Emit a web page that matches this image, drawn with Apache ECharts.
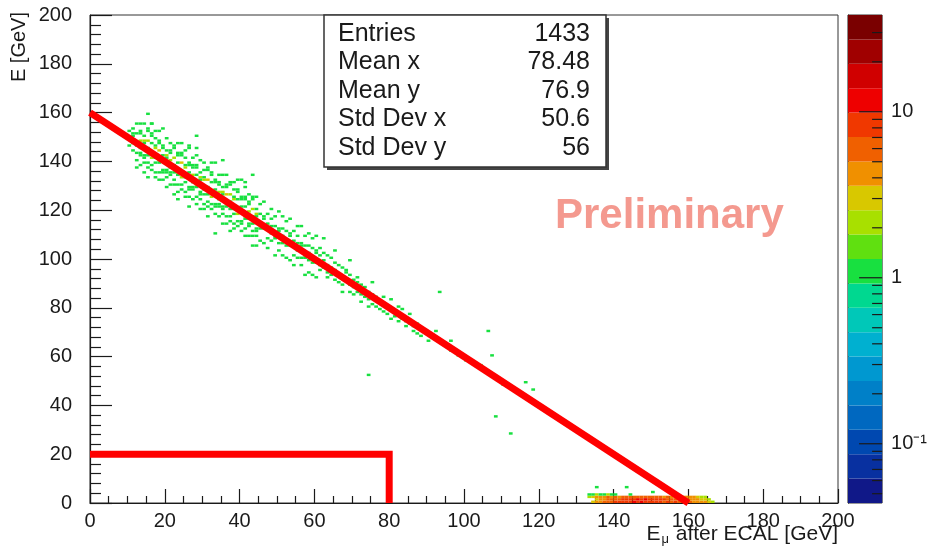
<!DOCTYPE html>
<html>
<head>
<meta charset="utf-8">
<script src="https://cdn.jsdelivr.net/npm/echarts@6/dist/echarts.min.js"></script>
<style>
html, body { margin: 0; padding: 0; background: #fff; }
#chart { width: 930px; height: 553px; }
</style>
</head>
<body>
<div id="chart"></div>
<script>
// 2D histogram of E versus E_mu after ECAL, 1 GeV x 1 GeV bins.
// Each entry: [E_mu bin low edge, E bin low edge, entries]
const bandDense = [
  [10,149,1],[10,152,1],[10,146,1],
  [11,147,1],[11,150,1],[11,144,1],[11,153,1],
  [12,151,1],[12,146,1],[12,143,1],[12,155,1],[12,140,1],
  [13,155,1],[13,152,1],[13,151,1],[13,148,2],[13,145,1],[13,143,1],[13,142,1],[13,138,1],
  [14,155,1],[14,150,1],[14,148,2],[14,147,1],[14,142,1],[14,141,1],[14,139,1],[14,135,1],
  [15,153,1],[15,152,1],[15,148,2],[15,145,1],[15,142,1],[15,139,1],[15,137,1],[15,133,1],
  [16,151,1],[16,150,1],[16,147,1],[16,143,1],[16,141,2],[16,138,1],[16,136,1],[16,155,1],
  [17,152,1],[17,149,1],[17,146,1],[17,145,2],[17,141,1],[17,139,1],[17,135,1],[17,133,1],
  [18,148,1],[18,147,1],[18,144,3],[18,140,2],[18,139,1],[18,135,1],[18,132,1],[18,152,1],
  [19,146,1],[19,145,1],[19,142,1],[19,140,2],[19,136,1],[19,135,1],[19,132,1],[19,153,1],
  [20,149,1],[20,144,1],[20,142,2],[20,141,1],[20,136,1],[20,135,1],[20,133,1],[20,129,1],
  [21,147,1],[21,144,1],[21,143,1],[21,140,2],[21,137,1],[21,135,1],[21,134,1],[21,130,1],
  [22,146,1],[22,145,1],[22,141,2],[22,138,1],[22,135,1],[22,132,1],[22,130,1],[22,126,1],
  [23,143,1],[23,142,1],[23,139,1],[23,135,2],[23,134,1],[23,130,1],[23,127,1],[23,147,1],
  [24,143,1],[24,142,1],[24,139,3],[24,135,1],[24,133,2],[24,130,1],[24,128,1],[24,147,1],
  [25,144,1],[25,141,1],[25,138,1],[25,137,2],[25,133,1],[25,131,1],[25,127,1],[25,125,1],
  [26,139,1],[26,138,1],[26,135,1],[26,133,2],[26,129,1],[26,128,1],[26,125,1],[26,146,1],
  [27,141,1],[27,138,1],[27,137,1],[27,134,2],[27,131,1],[27,129,1],[27,128,1],[27,124,1],
  [28,138,1],[28,137,1],[28,134,1],[28,130,2],[28,129,1],[28,125,1],[28,122,1],[28,142,1],
  [29,140,1],[29,135,1],[29,133,2],[29,132,1],[29,127,1],[29,126,1],[29,124,1],[29,120,1],
  [30,139,1],[30,136,1],[30,133,1],[30,132,2],[30,128,1],[30,126,1],[30,122,1],[30,120,1],
  [31,137,1],[31,136,1],[31,132,3],[31,129,1],[31,126,1],[31,123,1],[31,121,1],[31,117,1],
  [32,135,1],[32,134,1],[32,131,1],[32,127,1],[32,125,2],[32,122,1],[32,120,1],[32,139,1],
  [33,132,1],[33,131,1],[33,128,1],[33,126,2],[33,122,1],[33,121,1],[33,118,1],[33,139,1],
  [34,134,1],[34,131,1],[34,130,1],[34,127,2],[34,124,1],[34,122,1],[34,121,1],[34,117,1],
  [35,134,1],[35,129,1],[35,127,2],[35,126,1],[35,121,1],[35,120,1],[35,118,1],[35,114,1],
  [36,130,1],[36,129,1],[36,126,3],[36,122,2],[36,121,1],[36,117,1],[36,114,1],[36,134,1],
  [37,131,1],[37,130,1],[37,126,2],[37,123,1],[37,120,1],[37,117,1],[37,115,1],[37,111,1],
  [38,131,1],[38,128,1],[38,125,1],[38,124,2],[38,120,1],[38,118,1],[38,114,1],[38,112,1],
  [39,128,1],[39,127,1],[39,124,1],[39,120,1],[39,118,2],[39,115,1],[39,113,1],[39,132,1],
  [40,125,1],[40,124,1],[40,121,1],[40,119,2],[40,115,1],[40,114,1],[40,111,1],[40,132,1],
  [41,125,1],[41,124,1],[41,121,1],[41,117,2],[41,116,1],[41,112,1],[41,109,1],[41,129,1],
  [42,126,1],[42,123,1],[42,122,1],[42,119,2],[42,116,1],[42,114,1],[42,113,1],[42,109,1],
  [43,125,1],[43,124,1],[43,120,2],[43,117,1],[43,114,1],[43,111,1],[43,109,1],[43,105,1],
  [44,125,1],[44,120,1],[44,118,2],[44,117,1],[44,112,1],[44,111,1],[44,109,1],[44,105,1],
  [45,122,1],[45,118,1],[45,114,1],[45,112,1],[45,107,1],
  [46,123,1],[46,117,1],[46,116,1],[46,112,1],[46,106,1],
  [47,118,1],[47,114,1],[47,112,1],[47,108,1],[47,104,1],
  [48,120,1],[48,116,1],[48,113,1],[48,110,1],[48,107,1],
  [49,117,1],[49,113,1],[49,109,1],[49,108,1],[49,101,1],
  [50,119,1],[50,112,1],[50,111,1],[50,106,1],[50,103,1],
  [51,117,1],[51,112,1],[51,109,1],[51,106,1],[51,101,1],
  [52,115,1],[52,111,1],[52,107,1],[52,105,1],[52,100,1],
  [53,116,1],[53,110,1],[53,109,1],[53,105,1],[53,99,1],
  [54,111,1],[54,107,1],[54,105,1],[54,101,1],[54,97,1],
  [55,113,1],[55,109,1],[55,106,1],[55,103,1],[55,100,1],
  [56,113,1],[56,106,1],[56,105,1],[56,100,1],[56,97,1],
  [57,109,1],[57,105,1],[57,101,1],[57,100,1],[57,93,1],
  [58,110,1],[58,105,1],[58,102,1],[58,99,1],[58,94,1],
  [59,108,1],[59,104,1],[59,100,1],[59,98,1],[59,93,1],
  [60,109,1],[60,103,1],[60,102,1],[60,98,1],[60,92,1]
];

const bandTail = [
  [61,104,1],[61,101,1],[61,97,1],[61,95,1],
  [62,102,1],[62,99,1],[62,96,1],[62,108,1],
  [63,101,1],[63,97,1],[63,94,1],[63,92,1],
  [64,100,1],[64,96,1],[64,93,1],
  [65,98,1],[65,95,1],[65,91,1],[65,103,1],
  [66,97,1],[66,93,1],[66,90,1],
  [67,96,1],[67,92,1],[67,89,1],[67,86,1],
  [68,94,1],[68,91,1],[68,95,1],
  [69,93,1],[69,89,1],[69,86,1],[69,99,1],
  [70,91,1],[70,88,1],[70,85,1],
  [71,90,1],[71,86,1],[71,92,1],
  [72,89,1],[72,85,1],[72,82,1],
  [73,88,1],[73,84,1],
  [74,86,1],[74,83,1],[74,80,1],
  [75,85,1],[75,81,1],[75,90,1],
  [76,84,1],[76,80,1],
  [77,82,1],[77,79,1],
  [78,81,1],[78,78,1],[78,84,1],
  [79,80,1],[79,77,1],
  [80,79,1],[80,83,1],[80,75,1],
  [81,78,1],[81,76,1],
  [82,77,1],[82,74,1],[82,80,1],
  [83,75,1],[83,79,1],
  [84,74,1],[84,72,1],
  [85,77,1],[85,73,1],
  [86,72,1],[86,70,1],
  [87,73,1],[87,69,1],
  [88,71,1],[88,68,1],
  [89,70,1],
  [90,69,1],[90,66,1],
  [92,67,1],[92,70,1],
  [94,65,1],
  [96,62,1],[96,66,1],
  [98,60,1],
  [100,58,1]
];

const strays = [
  [15,159,1],[16,155,1],[28,150,1],[28,145,1],[26,145,1],[35,140,1],[41,131,1],
  [43,134,1],[23,124,1],[26,121,1],[33,110,1],[11,151,1],[12,137,1],[74,52,1],
  [93,86,1],[106,70,1],[107,60,1],[108,35,1],[112,28,1],[116,49,1],[118,46,1],
  [104,56,1],[110,48,1]
];

const floorCluster = [
  [134,0,3],[135,0,4],[136,0,5],[137,0,6],[138,0,7],[139,0,7],[140,0,8],[141,0,8],
  [142,0,9],[143,0,8],[144,0,9],[145,0,10],[146,0,9],[147,0,10],[148,0,9],[149,0,8],
  [150,0,9],[151,0,8],[152,0,9],[153,0,7],[154,0,8],[155,0,7],[156,0,8],[157,0,6],
  [158,0,7],[159,0,6],[160,0,6],[161,0,5],[162,0,5],[163,0,4],[164,0,4],[165,0,3],[166,0,2],
  [135,1,3],[136,1,4],[137,1,5],[138,1,6],[139,1,6],[140,1,7],[141,1,7],[142,1,8],
  [143,1,9],[144,1,8],[145,1,9],[146,1,10],[147,1,9],[148,1,10],[149,1,9],[150,1,8],
  [151,1,9],[152,1,8],[153,1,8],[154,1,7],[155,1,7],[156,1,6],[157,1,7],[158,1,6],
  [159,1,5],[160,1,5],[161,1,4],[162,1,4],[163,1,3],[164,1,3],[165,1,2],
  [133,2,2],[134,2,3],[135,2,4],[136,2,5],[137,2,4],[138,2,6],[139,2,5],[140,2,6],
  [141,2,5],[142,2,7],[143,2,6],[144,2,7],[145,2,6],[146,2,7],[147,2,6],[148,2,7],
  [149,2,6],[150,2,6],[151,2,7],[152,2,6],[153,2,5],[154,2,6],[155,2,5],[156,2,5],
  [157,2,5],[158,2,4],[159,2,5],[160,2,4],[161,2,4],[162,2,3],[163,2,2],[164,2,2],
  [133,3,1],[134,3,1],[135,3,2],[136,3,1],[137,3,1],[138,3,2],[139,3,1],[140,3,1],
  [144,3,1],
  [135,6,1],[143,6,1],[150,4,1]
];

// Kinematic cut lines
const cutDiagonal = [[0, 160], [160, 0]];
const cutCorner = [[0, 20], [80, 20], [80, 0]];

// Statistics box
const statNames = ['Entries', 'Mean x', 'Mean y', 'Std Dev x', 'Std Dev y'];
const statValues = ['1433', '78.48', '76.9', '50.6', '56'];

// Colour (z) scale, in log10(entries)
const zLogMin = -1.357;
const zLogMax = 1.583;
const zLabelDecades = [-1, 0, 1];
const zLabelText = { '-1': '10\u207B\u00B9', '0': '1', '1': '10' };
const zMinorMantissas = [2, 3, 4, 5, 6, 7, 8, 9];

// 20-level rainbow palette, low to high
const palette = [
  '#101888', '#0830a0', '#0048b0', '#0068c0', '#0080c8',
  '#0098d0', '#00b0d0', '#00c8b8', '#00d890', '#18e040',
  '#60e010', '#a8e000', '#d8c800', '#f09000', '#f06000',
  '#f03800', '#ee0000', '#d00000', '#a00000', '#7a0000'
];

const FONT = '"Liberation Sans", Arial, Helvetica, sans-serif';
const INK = '#1a1a1a';

function binColour(n) {
  const t = (Math.log10(n) - zLogMin) / (zLogMax - zLogMin);
  const i = Math.max(0, Math.min(palette.length - 1, Math.floor(t * palette.length)));
  return palette[i];
}

function renderBin(params, api) {
  const x = api.value(0);
  const y = api.value(1);
  const a = api.coord([x, y + 1]);
  const b = api.coord([x + 1, y]);
  return {
    type: 'rect',
    shape: { x: a[0], y: a[1], width: b[0] - a[0], height: b[1] - a[1] },
    style: { fill: binColour(api.value(2)) }
  };
}

const zStep = (zLogMax - zLogMin) / palette.length;
function renderBand(params, api) {
  const i = api.value(0);
  const lo = zLogMin + i * zStep;
  const a = api.coord([0, lo + zStep]);
  const b = api.coord([1, lo]);
  return {
    type: 'rect',
    shape: { x: a[0], y: a[1], width: b[0] - a[0], height: b[1] - a[1] },
    style: { fill: palette[i] }
  };
}

// Tick marks along the right edge of the colour bar, pointing into it
function tickRenderer(len) {
  return function (params, api) {
    const p = api.coord([1, api.value(0)]);
    return {
      type: 'line',
      shape: { x1: p[0], y1: p[1], x2: p[0] - len, y2: p[1] },
      style: { stroke: INK, lineWidth: 1.2 }
    };
  };
}

const minorZ = [];
for (let d = -2; d <= 1; d++) {
  zMinorMantissas.forEach(m => {
    const v = Math.log10(m) + d;
    if (v > zLogMin && v < zLogMax) minorZ.push([v]);
  });
}

const bins = bandDense.concat(bandTail, strays, floorCluster);

const chart = echarts.init(document.getElementById('chart'), null, { renderer: 'canvas' });

const axisInk = { color: INK, width: 1.2 };

const statsGraphics = [
  { type: 'rect', z: 20, shape: { x: 327, y: 18, width: 282, height: 152 }, style: { fill: '#444' } },
  { type: 'rect', z: 21, shape: { x: 324, y: 15, width: 282, height: 152 }, style: { fill: '#fff', stroke: '#333', lineWidth: 1.5 } }
];
statNames.forEach((name, i) => {
  const cy = 34 + i * 28.5;
  statsGraphics.push({
    type: 'text', z: 22, x: 338, y: cy,
    style: { text: name, font: '25px ' + FONT, fill: INK, align: 'left', verticalAlign: 'middle' }
  });
  statsGraphics.push({
    type: 'text', z: 22, x: 590, y: cy,
    style: { text: statValues[i], font: '25px ' + FONT, fill: INK, align: 'right', verticalAlign: 'middle' }
  });
});

const option = {
  backgroundColor: '#fff',
  animation: false,
  grid: [
    { left: 90, top: 15, width: 748, height: 488, show: true, borderColor: '#333', borderWidth: 1, backgroundColor: '#fff' },
    { left: 848, top: 15, width: 42, height: 488, show: true, borderColor: '#333', borderWidth: 1 }
  ],
  xAxis: [
    {
      gridIndex: 0, type: 'value', min: 0, max: 200, interval: 20,
      axisLine: { show: true, lineStyle: axisInk },
      axisTick: { show: true, inside: true, length: 14, lineStyle: axisInk },
      minorTick: { show: true, splitNumber: 4, length: 7, lineStyle: axisInk },
      axisLabel: { fontSize: 20, color: INK, margin: 8, fontFamily: FONT },
      splitLine: { show: false }
    },
    { gridIndex: 1, type: 'value', min: 0, max: 1, show: false }
  ],
  yAxis: [
    {
      gridIndex: 0, type: 'value', min: 0, max: 200, interval: 20,
      axisLine: { show: true, lineStyle: axisInk },
      axisTick: { show: true, inside: true, length: 22, lineStyle: axisInk },
      minorTick: { show: true, splitNumber: 5, length: 11, lineStyle: axisInk },
      axisLabel: { fontSize: 20, color: INK, margin: 18, fontFamily: FONT },
      splitLine: { show: false }
    },
    {
      gridIndex: 1, type: 'value', min: zLogMin, max: zLogMax, position: 'right',
      axisLine: { show: true, lineStyle: axisInk },
      axisTick: { show: false },
      axisLabel: {
        show: true, customValues: zLabelDecades, fontSize: 20, color: INK, margin: 9, fontFamily: FONT,
        formatter: v => zLabelText[String(Math.round(v))]
      },
      splitLine: { show: false }
    }
  ],
  series: [
    {
      type: 'custom', xAxisIndex: 0, yAxisIndex: 0, z: 2, clip: true,
      renderItem: renderBin, encode: { x: 0, y: 1 }, data: bins
    },
    {
      type: 'line', xAxisIndex: 0, yAxisIndex: 0, z: 5, clip: true,
      data: cutDiagonal, symbol: 'none', silent: true,
      lineStyle: { color: '#ff0000', width: 7 }
    },
    {
      type: 'line', xAxisIndex: 0, yAxisIndex: 0, z: 5, clip: true,
      data: cutCorner, symbol: 'none', silent: true,
      lineStyle: { color: '#ff0000', width: 7, join: 'miter' }
    },
    {
      type: 'custom', xAxisIndex: 1, yAxisIndex: 1, z: 2,
      renderItem: renderBand, encode: { x: 0, y: 0 },
      data: palette.map((c, i) => [i])
    },
    {
      type: 'custom', xAxisIndex: 1, yAxisIndex: 1, z: 3, silent: true,
      renderItem: tickRenderer(23), encode: { y: 0 },
      data: zLabelDecades.map(v => [v])
    },
    {
      type: 'custom', xAxisIndex: 1, yAxisIndex: 1, z: 3, silent: true,
      renderItem: tickRenderer(10), encode: { y: 0 },
      data: minorZ
    }
  ],
  graphic: statsGraphics.concat([
    {
      type: 'text', z: 22, x: 555, y: 216,
      style: { text: 'Preliminary', font: 'bold 42px ' + FONT, fill: '#f4998f', align: 'left', verticalAlign: 'middle' }
    },
    {
      type: 'text', z: 22, x: 19, y: 12, rotation: Math.PI / 2,
      style: { text: 'E [GeV]', font: '20px ' + FONT, fill: INK, align: 'right', verticalAlign: 'middle' }
    },
    {
      type: 'text', z: 22, x: 838, y: 534,
      style: {
        text: '{m|E}{s|\u03BC}{m| after ECAL [GeV]}',
        align: 'right', verticalAlign: 'middle',
        rich: {
          m: { font: '21px ' + FONT, fill: INK },
          s: { font: '13px ' + FONT, fill: INK, padding: [10, 1, 0, 1] }
        }
      }
    }
  ])
};

chart.setOption(option);
</script>
</body>
</html>
